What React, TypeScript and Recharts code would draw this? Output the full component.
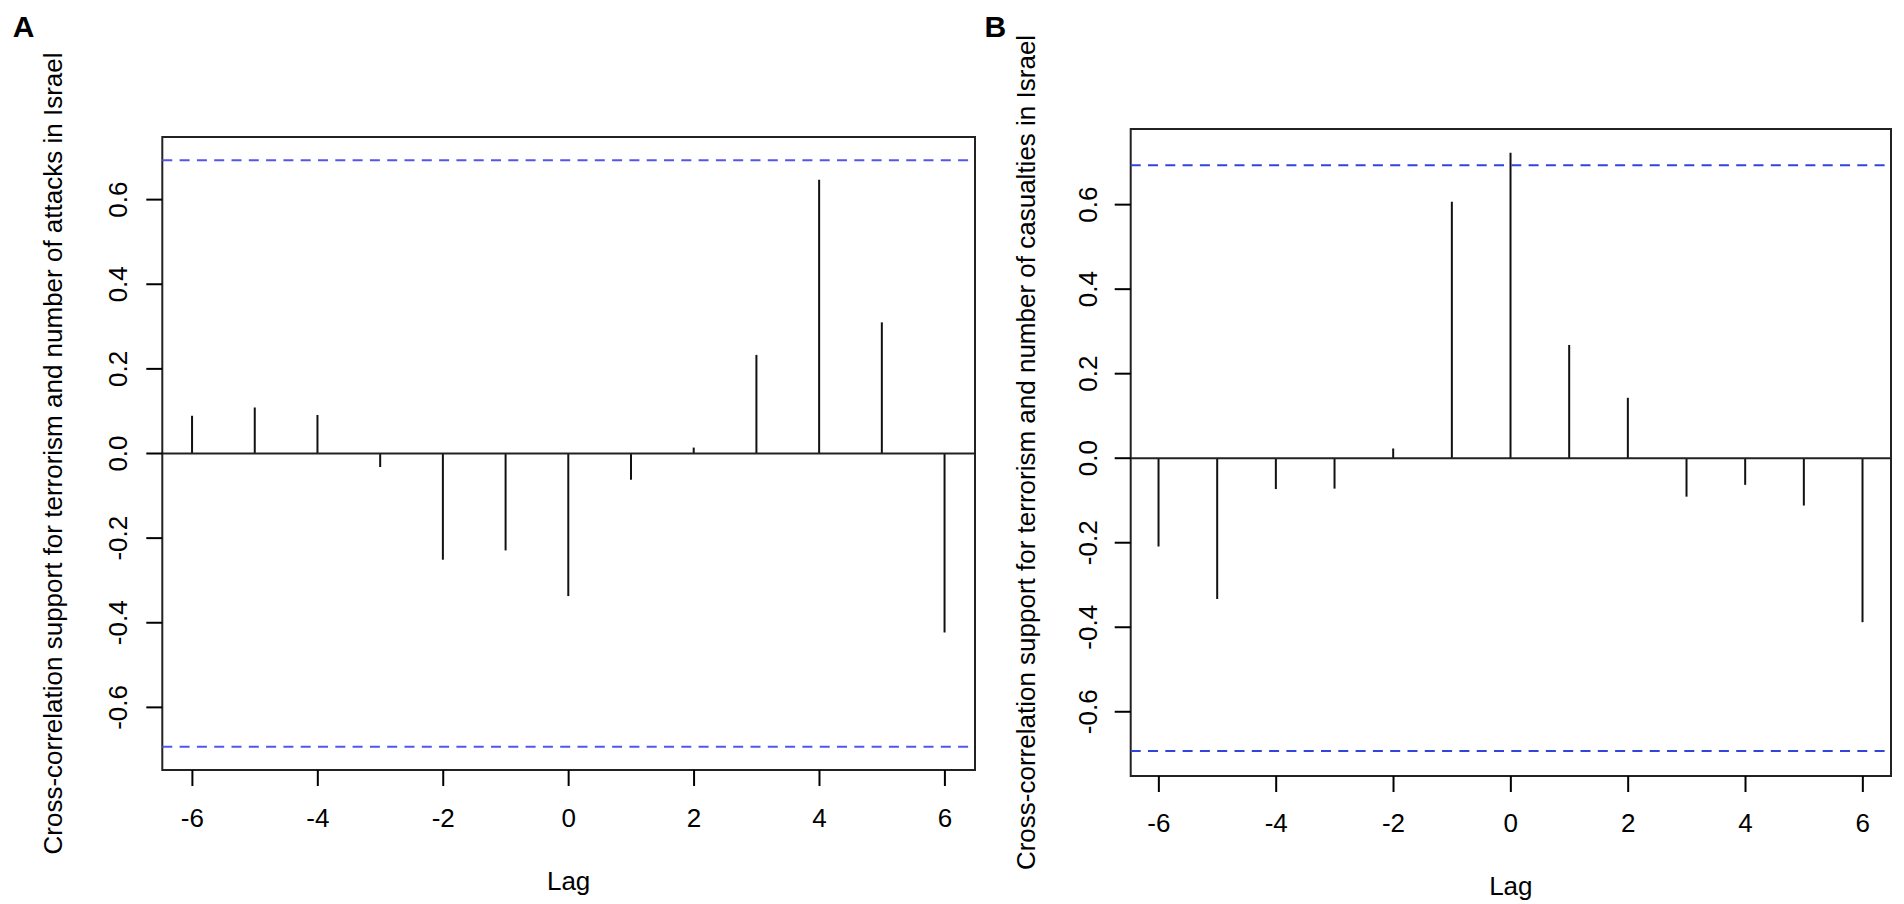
import React from 'react';
import { ComposedChart, Bar, XAxis, YAxis, ReferenceLine, ReferenceArea, Label } from 'recharts';

const lags = [-6, -5, -4, -3, -2, -1, 0, 1, 2, 3, 4, 5, 6];
const attacksCorr = [0.089, 0.109, 0.091, -0.032, -0.251, -0.229, -0.337, -0.062, 0.014, 0.233, 0.647, 0.31, -0.423];
const casualtiesCorr = [-0.209, -0.333, -0.073, -0.072, 0.023, 0.607, 0.723, 0.268, 0.143, -0.091, -0.063, -0.112, -0.388];
const xTicks = [-6, -4, -2, 0, 2, 4, 6];
const yTicks = [-0.6, -0.4, -0.2, 0, 0.2, 0.4, 0.6];
const confLimit = 0.693;
const titleA = 'Cross-correlation support for terrorism and number of attacks in Israel';
const titleB = 'Cross-correlation support for terrorism and number of casualties in Israel';
const xLabel = 'Lag';

const attacksData = lags.map((lag, i) => ({ lag, r: attacksCorr[i] }));
const casualtiesData = lags.map((lag, i) => ({ lag, r: casualtiesCorr[i] }));

const FONT = '"Liberation Sans", Arial, Helvetica, sans-serif';
const FS = 26;

type PanelProps = {
  data: { lag: number; r: number }[];
  title: string;
  letter: string;
  yDomain: [number, number];
  left: number;
  width: number;
  margin: { top: number; right: number; bottom: number; left: number };
  titleX: number;
  letterX: number;
  letterY: number;
  yTickGap: number;
  xTickGap: number;
  lagOffset: number;
  blue: string;
};

const xDomain: [number, number] = [-6.48, 6.48];
const AXIS_W = 100;
const AXIS_H = 100;
const HEIGHT = 904;

function Panel(p: PanelProps) {
  const plotTop = p.margin.top;
  const plotBottom = HEIGHT - p.margin.bottom - AXIS_H;
  const plotLeft = p.margin.left + AXIS_W;
  const plotRight = p.width - p.margin.right;
  const cy = (plotTop + plotBottom) / 2;
  const cx = (plotLeft + plotRight) / 2;

  const yTick = (t: any) => {
    const bx = t.x - p.yTickGap;
    return (
      <text x={bx} y={t.y} transform={`rotate(-90 ${bx} ${t.y})`} textAnchor="middle" fontSize={FS} fontFamily={FONT} fill="#000">
        {Number(t.payload.value).toFixed(1)}
      </text>
    );
  };
  const xTick = (t: any) => (
    <text x={t.x} y={t.y + p.xTickGap} textAnchor="middle" fontSize={FS} fontFamily={FONT} fill="#000">
      {String(t.payload.value)}
    </text>
  );

  return (
    <div style={{ position: 'absolute', left: p.left, top: 0 }}>
      <ComposedChart width={p.width} height={HEIGHT} data={p.data} margin={p.margin}>
        <XAxis
          type="number"
          dataKey="lag"
          domain={xDomain}
          ticks={xTicks}
          allowDataOverflow
          axisLine={false}
          tickLine={{ stroke: '#000', strokeWidth: 2 }}
          tickSize={16}
          tickMargin={0}
          height={AXIS_H}
          tick={xTick}
          interval={0}
        >
          <Label
            content={() => (
              <text x={cx} y={plotBottom + p.lagOffset} textAnchor="middle" fontSize={FS} fontFamily={FONT} fill="#000">
                {xLabel}
              </text>
            )}
          />
        </XAxis>
        <YAxis
          type="number"
          domain={p.yDomain}
          ticks={yTicks}
          allowDataOverflow
          axisLine={false}
          tickLine={{ stroke: '#000', strokeWidth: 2 }}
          tickSize={16}
          tickMargin={0}
          width={AXIS_W}
          tick={yTick}
          interval={0}
        >
          <Label
            content={() => (
              <g>
                <text
                  x={p.titleX}
                  y={cy}
                  transform={`rotate(-90 ${p.titleX} ${cy})`}
                  textAnchor="middle"
                  fontSize={FS}
                  fontFamily={FONT}
                  fill="#000"
                >
                  {p.title}
                </text>
                <text x={p.letterX} y={p.letterY} fontSize={30} fontWeight="bold" fontFamily={FONT} fill="#000">
                  {p.letter}
                </text>
              </g>
            )}
          />
        </YAxis>
        <ReferenceLine y={0} stroke="#222" strokeWidth={2} ifOverflow="visible" />
        <ReferenceLine y={confLimit} stroke={p.blue} strokeWidth={2} strokeDasharray="10 7.3" ifOverflow="visible" />
        <ReferenceLine y={-confLimit} stroke={p.blue} strokeWidth={2} strokeDasharray="10 7.3" ifOverflow="visible" />
        <Bar dataKey="r" barSize={2} fill="#111" isAnimationActive={false} />
        <ReferenceArea
          x1={xDomain[0]}
          x2={xDomain[1]}
          y1={p.yDomain[0]}
          y2={p.yDomain[1]}
          fill="none"
          fillOpacity={0}
          stroke="#222"
          strokeWidth={2}
          ifOverflow="visible"
        />
      </ComposedChart>
    </div>
  );
}

export default function App() {
  return (
    <div style={{ position: 'absolute', left: 0, top: 0, width: 1904, height: 904, overflow: 'hidden', background: '#fff' }}>
      <Panel
        data={attacksData}
        title={titleA}
        letter="A"
        yDomain={[-0.748, 0.748]}
        left={0}
        width={990}
        margin={{ top: 137, right: 15, bottom: 34, left: 62.3 }}
        titleX={61.7}
        letterX={12.7}
        letterY={37}
        yTickGap={19.6}
        xTickGap={41}
        lagOffset={120}
        blue="#5555ee"
      />
      <Panel
        data={casualtiesData}
        title={titleB}
        letter="B"
        yDomain={[-0.752, 0.779]}
        left={960}
        width={944}
        margin={{ top: 129, right: 13, bottom: 28, left: 70.7 }}
        titleX={74.5}
        letterX={24.5}
        letterY={36.7}
        yTickGap={18}
        xTickGap={39.5}
        lagOffset={119}
        blue="#3344dd"
      />
    </div>
  );
}
